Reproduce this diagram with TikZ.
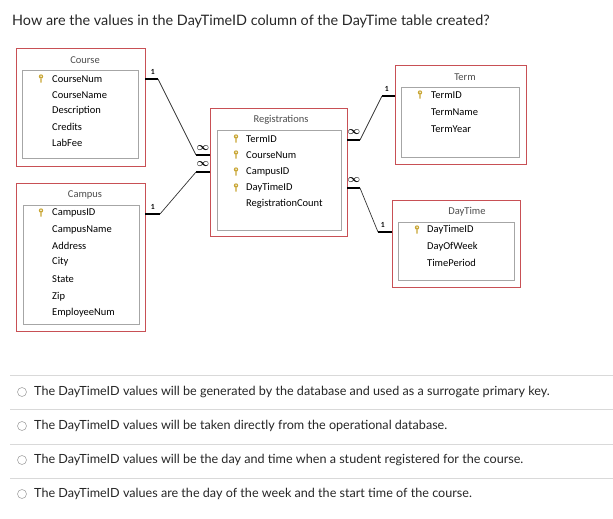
\documentclass[tikz,border=0pt]{standalone}
\usepackage{fontspec}
\setmainfont{Lato}
\newfontfamily\uifont{Carlito}
\definecolor{boxred}{RGB}{200,80,85}
\definecolor{keygold}{RGB}{200,165,50}
\begin{document}
\begin{tikzpicture}[x=1pt,y=-1pt,
  outerbox/.style={draw=boxred,line width=0.8pt},
  innerbox/.style={draw=gray!70,line width=0.8pt},
  ttl/.style={font=\uifont\fontsize{10.5}{11}\selectfont,text=gray!60!black,anchor=center,inner sep=0},
  fld/.style={font=\uifont\fontsize{10.5}{11}\selectfont,anchor=west,inner sep=0},
  thick1/.style={line width=2pt},
  thin1/.style={line width=0.7pt,black!80},
  card/.style={font=\bfseries\fontsize{7}{7}\selectfont,inner sep=0},
  inf/.style={font=\boldmath\fontsize{11}{11}\selectfont,inner sep=0},
  opt/.style={font=\fontsize{12.6}{14}\selectfont,anchor=west,inner sep=0,text=black!85},
  sep/.style={draw=gray!30,line width=0.8pt}]
\useasboundingbox (0,0) rectangle (613,519);
\node[font=\fontsize{14.4}{16}\selectfont,anchor=west,inner sep=0,text=black!85] (q) at (12,21) {How are the values in the DayTimeID column of the DayTime table created?};
\newcommand{\keyicon}[2]{\fill[keygold] (#1,#2-2.5) circle (2.2) (#1-0.7,#2-1) rectangle (#1+0.7,#2+3.5);\fill[white] (#1,#2-2.8) circle (0.8);}
% Course
\draw[outerbox] (16,48) rectangle (145,166); \draw[innerbox] (22,70) rectangle (138,158);
\node[ttl] (courseT) at (85,60) {Course};
\coordinate (courseR) at (145,79);
\keyicon{41}{79}
\node[fld] at (52,79) {CourseNum};
\node[fld] at (52,95) {CourseName};
\node[fld] at (52,111) {Description};
\node[fld] at (52,127) {Credits};
\node[fld] at (52,143) {LabFee};
% Campus
\draw[outerbox] (16,183) rectangle (145,331); \draw[innerbox] (23,205) rectangle (139,324);
\node[ttl] (campusT) at (85,195) {Campus};
\coordinate (campusR) at (145,214);
\keyicon{41}{213}
\node[fld] at (52,213) {CampusID};
\node[fld] at (52,230) {CampusName};
\node[fld] at (52,246) {Address};
\node[fld] at (52,262) {City};
\node[fld] at (52,279) {State};
\node[fld] at (52,297) {Zip};
\node[fld] at (52,313) {EmployeeNum};
% Registrations
\draw[outerbox] (210,108) rectangle (347,236); \draw[innerbox] (217,130) rectangle (341,230);
\node[ttl] (regT) at (281,120) {Registrations};
\keyicon{236}{139}\keyicon{236}{155}\keyicon{236}{172}\keyicon{236}{188}
\node[fld] at (246,139) {TermID};
\node[fld] at (246,155) {CourseNum};
\node[fld] at (246,172) {CampusID};
\node[fld] at (246,188) {DayTimeID};
\node[fld] at (246,204) {RegistrationCount};
\coordinate (regL1) at (210,155);\coordinate (regL2) at (210,172);
\coordinate (regR1) at (347,140);\coordinate (regR2) at (347,188);
% Term
\draw[outerbox] (395,65) rectangle (526,164); \draw[innerbox] (401,87) rectangle (519,157);
\node[ttl] (termT) at (465,77) {Term};
\keyicon{420}{95}
\node[fld] at (431,95) {TermID};
\node[fld] at (431,112) {TermName};
\node[fld] at (431,129) {TermYear};
\coordinate (termL) at (395,96);
% DayTime
\draw[outerbox] (392,200) rectangle (520,287); \draw[innerbox] (398,222) rectangle (514,280);
\node[ttl] (dayT) at (467,212) {DayTime};
\keyicon{417}{230}
\node[fld] at (427,230) {DayTimeID};
\node[fld] at (427,247) {DayOfWeek};
\node[fld] at (427,263) {TimePeriod};
\coordinate (dayL) at (392,232);
% connectors
\draw[thick1] (courseR) -- ++(13,0) coordinate (c1);
\draw[thick1] (regL1) -- ++(-14,0) coordinate (c2);
\draw[thin1] (c1) -- (c2);
\node[card] at (153,72) {1}; \node[inf] at (203,148) {$\infty$};
\draw[thick1] (campusR) -- ++(15,0) coordinate (c3);
\draw[thick1] (regL2) -- ++(-14,0) coordinate (c4);
\draw[thin1] (c3) -- (c4);
\node[card] at (153,207) {1}; \node[inf] at (203,164) {$\infty$};
\draw[thick1] (regR1) -- ++(13,0) coordinate (c5);
\draw[thick1] (termL) -- ++(-13,0) coordinate (c6);
\draw[thin1] (c5) -- (c6);
\node[inf] at (354,132) {$\infty$}; \node[card] at (387,89) {1};
\draw[thick1] (regR2) -- ++(13,0) coordinate (c7);
\draw[thick1] (dayL) -- ++(-14,0) coordinate (c8);
\draw[thin1] (c7) -- (c8);
\node[inf] at (354,180) {$\infty$}; \node[card] at (383,225) {1};
% options
\foreach \y in {375,409,444,478} \draw[sep] (10,\y) -- (613,\y);
\foreach \y/\t [count=\i] in {392/{The DayTimeID values will be generated by the database and used as a surrogate primary key.},426/{The DayTimeID values will be taken directly from the operational database.},460/{The DayTimeID values will be the day and time when a student registered for the course.},494/{The DayTimeID values are the day of the week and the start time of the course.}}{
  \draw[gray!70,line width=0.6pt] (22,\y) circle (4.5);
  \node[opt] (opt\i) at (34,\y) {\t};
}
\end{tikzpicture}
\end{document}
